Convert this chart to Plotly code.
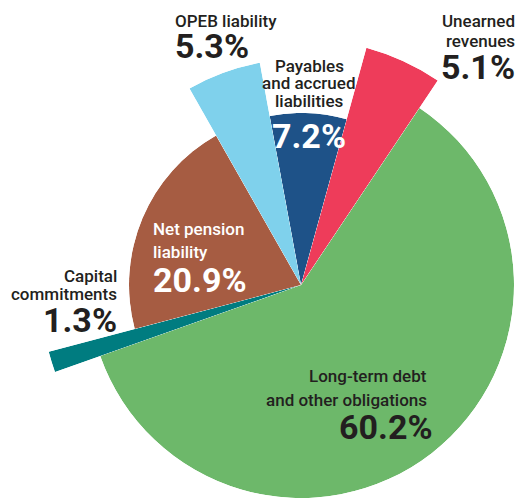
import math
import plotly.graph_objects as go

# ---- data -----------------------------------------------------------------
categories = [
    "Payables<br>and accrued<br>liabilities",
    "Unearned<br>revenues",
    "Long-term debt<br>and other obligations",
    "Capital<br>commitments",
    "Net pension<br>liability",
    "OPEB liability",
]
shares = [7.2, 5.1, 60.2, 1.3, 20.9, 5.3]  # percent of total liabilities

# ---- styling ----------------------------------------------------------------
colors = ["#1e5288", "#ee3c5a", "#6db86a", "#007c80", "#a65c42", "#7fd1ec"]
slice_radius = [172, 246, 213, 261, 172, 226]  # px, each wedge drawn to its own radius
start_angle = -10.5  # degrees clockwise from 12 o'clock where the first wedge begins

W, H = 520, 498
CX, CY = 301, 285  # centre of the pie in px (from top-left)

DARK = "#231f20"
WHITE = "#ffffff"
FAMILY = "Roboto"

# label placement: anchor, x (px), centre y of each text line (px), value position, colours
label_style = [
    dict(anchor="center", x=309, lines_y=[66, 83, 101], value_y=136, value_x=309, color=DARK, value_color=WHITE),
    dict(anchor="right", x=516, lines_y=[21, 41], value_y=67, value_x=516, color=DARK, value_color=DARK),
    dict(anchor="right", x=428, lines_y=[376, 400], value_y=427, value_x=434, color=DARK, value_color=DARK),
    dict(anchor="right", x=118, lines_y=[276, 294], value_y=320, value_x=118, color=DARK, value_color=DARK),
    dict(anchor="left", x=152, lines_y=[229, 252], value_y=280, value_x=152, color=WHITE, value_color=WHITE),
    dict(anchor="left", x=174, lines_y=[21], value_y=46, value_x=174, color=DARK, value_color=DARK),
]


def sector_bbox(a0, a1):
    """Bounding box (unit circle, y up) of the wedge spanning math angles a0..a1, origin included."""
    pts = [(0.0, 0.0)]
    for a in (a0, a1):
        pts.append((math.cos(math.radians(a)), math.sin(math.radians(a))))
    k0 = math.ceil(a0 / 90.0)
    k1 = math.floor(a1 / 90.0)
    for k in range(k0, k1 + 1):
        pts.append((math.cos(math.radians(90 * k)), math.sin(math.radians(90 * k))))
    xs = [p[0] for p in pts]
    ys = [p[1] for p in pts]
    return min(xs), min(ys), max(xs), max(ys)


def clamp01(v):
    return min(1.0, max(0.0, v))


# ---- wedges: one polar subplot per slice, all sharing the same centre --------
total = sum(shares)
widths = [s / total * 360 for s in shares]

fig = go.Figure()
layout_polars = {}
acc = start_angle
for i, (cat, share, w, col, rad) in enumerate(zip(categories, shares, widths, colors, slice_radius)):
    theta_mid = acc + w / 2
    # clockwise-from-top angles -> counterclockwise-from-right sector
    a0 = 90 - (acc + w)
    a1 = 90 - acc
    acc += w
    x0, y0, x1, y1 = sector_bbox(a0, a1)
    dom_x = [clamp01((CX + rad * x0) / W), clamp01((CX + rad * x1) / W)]
    dom_y = [clamp01(1 - (CY - rad * y0) / H), clamp01(1 - (CY - rad * y1) / H)]
    name = "polar" if i == 0 else f"polar{i + 1}"
    fig.add_trace(go.Barpolar(
        r=[share], theta=[theta_mid], width=[w], base=0,
        marker=dict(color=col, line=dict(width=0)),
        text=[cat.replace("<br>", " ")],
        hovertemplate="%{text}: %{r:.1f}%<extra></extra>",
        subplot=name, showlegend=False,
    ))
    layout_polars[name] = dict(
        domain=dict(x=dom_x, y=dom_y),
        sector=[a0, a1],
        bgcolor="rgba(0,0,0,0)",
        bargap=0,
        radialaxis=dict(range=[0, share], visible=False, showgrid=False),
        angularaxis=dict(rotation=90, direction="clockwise", visible=False, showgrid=False),
    )

annotations = []
for cat, share, st in zip(categories, shares, label_style):
    for line, y in zip(cat.split("<br>"), st["lines_y"]):
        annotations.append(dict(
            text=line, x=st["x"] / W, y=1 - y / H, xref="paper", yref="paper",
            xanchor=st["anchor"], yanchor="middle", showarrow=False, borderpad=0,
            font=dict(family=FAMILY, size=17, color=st["color"], weight=500),
        ))
    annotations.append(dict(
        text=f"{share:.1f}%", x=st["value_x"] / W, y=1 - st["value_y"] / H,
        xref="paper", yref="paper", xanchor=st["anchor"], yanchor="middle",
        showarrow=False, borderpad=0,
        font=dict(family=FAMILY, size=34, color=st["value_color"], weight=700),
    ))

fig.update_layout(
    width=W, height=H,
    margin=dict(l=0, r=0, t=0, b=0),
    paper_bgcolor="white",
    plot_bgcolor="white",
    showlegend=False,
    annotations=annotations,
    **layout_polars,
)

fig.write_html("out.html")
